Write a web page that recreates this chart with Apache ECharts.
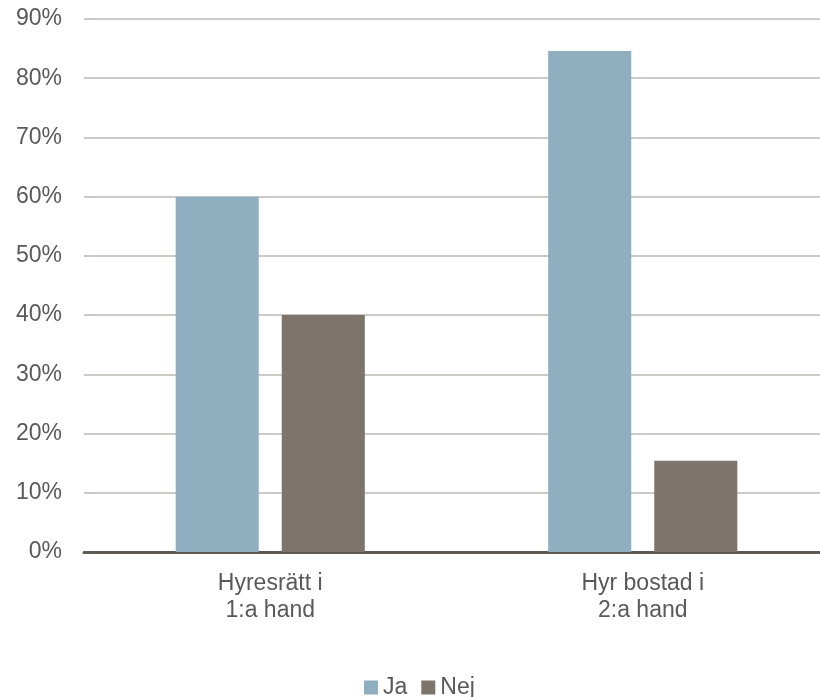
<!DOCTYPE html>
<html>
<head>
<meta charset="utf-8">
<script src="https://cdn.jsdelivr.net/npm/echarts@6/dist/echarts.min.js"></script>
<style>
  html, body { margin: 0; padding: 0; background: #ffffff; overflow: hidden; }
  /* the plot runs slightly past the right edge of the window */
  #chart { width: 829px; height: 697px; }
</style>
</head>
<body>
<div id="chart"></div>
<script>
// Housing type categories and answer shares (%)
const categories = ['Hyresrätt i\n1:a hand', 'Hyr bostad i\n2:a hand'];
const seriesNames = ['Ja', 'Nej'];
const jaValues = [60.0, 84.6];
const nejValues = [40.0, 15.4];
const yTicks = { min: 0, max: 90, step: 10 };

const textColor = '#595959';
const fontFamily = 'Liberation Sans, Arial, sans-serif';
const fontSize = 23;

const chart = echarts.init(document.getElementById('chart'), null, { renderer: 'canvas' });

chart.setOption({
  animation: false,
  backgroundColor: '#ffffff',
  color: ['#8faec0', '#7d746b'],
  textStyle: { fontFamily: fontFamily },
  grid: { left: 84, right: 0, top: 19, bottom: 145, containLabel: false },
  legend: {
    data: seriesNames,
    top: 676,
    left: 364,
    padding: 0,
    itemWidth: 14,
    itemHeight: 14,
    itemGap: 14,
    icon: 'rect',
    textStyle: { color: textColor, fontSize: fontSize, fontFamily: fontFamily }
  },
  xAxis: {
    type: 'category',
    data: categories,
    axisTick: { show: false },
    axisLine: { lineStyle: { color: '#5f5954', width: 3 } },
    axisLabel: { color: textColor, fontSize: fontSize, lineHeight: 27, margin: 18, fontFamily: fontFamily }
  },
  yAxis: {
    type: 'value',
    min: yTicks.min,
    max: yTicks.max,
    interval: yTicks.step,
    axisLine: { show: false },
    axisTick: { show: false },
    axisLabel: { color: textColor, fontSize: fontSize, margin: 22, formatter: '{value}%', fontFamily: fontFamily },
    splitLine: { lineStyle: { color: '#cdc9c4', width: 2 } }
  },
  series: [
    {
      name: seriesNames[0],
      type: 'bar',
      data: jaValues,
      barWidth: '22.3%',
      barGap: '27.7%',
      itemStyle: { color: '#8faec0' }
    },
    {
      name: seriesNames[1],
      type: 'bar',
      data: nejValues,
      barWidth: '22.3%',
      itemStyle: { color: '#7d746b' }
    }
  ]
});
</script>
</body>
</html>
